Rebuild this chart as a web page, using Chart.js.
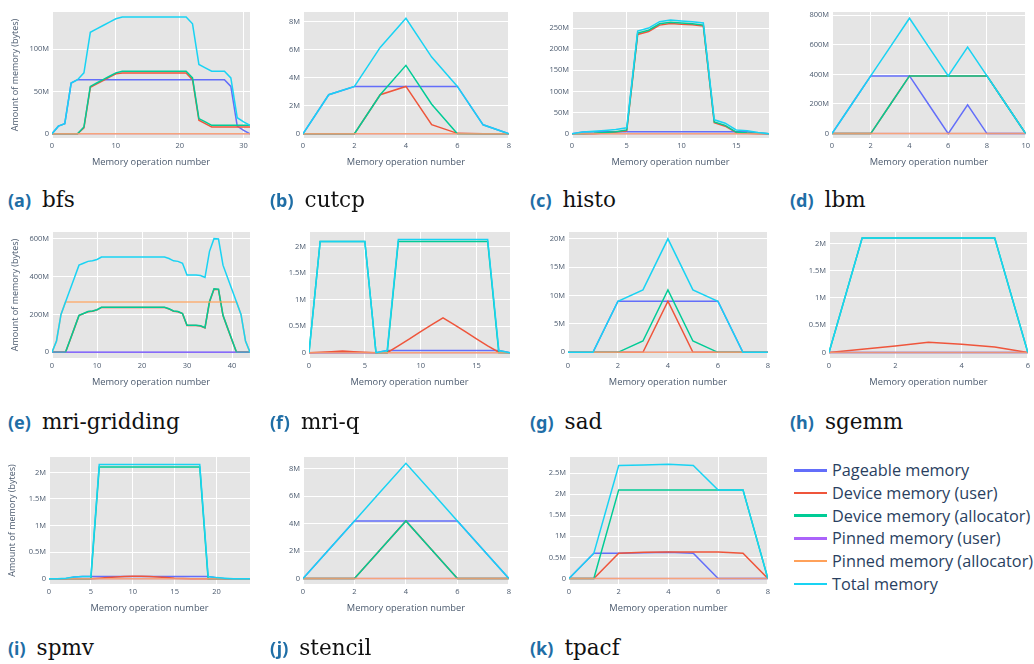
<!DOCTYPE html>
<html>
<head>
<meta charset="utf-8">
<script src="https://cdn.jsdelivr.net/npm/chart.js@4.4.1/dist/chart.umd.min.js"></script>
<style>
  html, body { margin: 0; padding: 0; background: #fff; overflow: hidden; }
  body { width: 1034px; height: 664px; position: relative; font-family: "Open Sans", sans-serif; }
  .panel { position: absolute; }
  .cap { position: absolute; white-space: nowrap; line-height: 24px; }
  .cap .lab { font-family: "Noto Sans", sans-serif; font-weight: bold; color: #1f6ea6; font-size: 18px; }
  .cap .nm { font-family: "DejaVu Serif", serif; font-size: 21.5px; color: #111; margin-left: 11px; }
  #legend { position: absolute; left: 794px; top: 459px; }
  #legend .item { height: 22.7px; display: flex; align-items: center; font-size: 16.3px; color: #2a3f5f; }
  #legend .sw { width: 33px; height: 2.5px; margin-right: 5px; }
</style>
</head>
<body>
<div id="legend"></div>
<script>
// series names / colours (plotly default colorway)
const seriesNames = ['Pageable memory', 'Device memory (user)', 'Device memory (allocator)', 'Pinned memory (user)', 'Pinned memory (allocator)', 'Total memory'];
const seriesColors = ['#636efa', '#EF553B', '#00cc96', '#ab63fa', '#FFA15A', '#19d3f3'];
// line colours on the plots (the two pinned series sit on the zero line and blend)
const lineColors = ['#636efa', '#EF553B', '#00cc96', 'rgba(171,99,250,0.5)', 'rgba(255,161,90,0.8)', '#19d3f3'];

// values in millions of bytes, one point per memory operation (x = 0,1,2,...)
// (a) bfs
const bfsPageable = [0,9,12,60,64,64,64,64,64,64,64,64,64,64,64,64,64,64,64,64,64,64,64,64,64,64,64,64,56,9,4,0];
const bfsDevUser = [0,0,0,0,0,7,55,59,63,67,71,72,72,72,72,72,72,72,72,72,72,72,64,16,12,8,8,8,8,8,8,8];
const bfsDevAlloc = [0,0,0,0,0,8,56,60,64,68,72,74,74,74,74,74,74,74,74,74,74,74,66,18,14,10,10,10,10,10,10,10];
const bfsPinUser = [0,0,0,0,0,0,0,0,0,0,0,0,0,0,0,0,0,0,0,0,0,0,0,0,0,0,0,0,0,0,0,0];
const bfsPinAlloc = [0,0,0,0,0,0,0,0,0,0,0,0,0,0,0,0,0,0,0,0,0,0,0,0,0,0,0,0,0,0,0,0];
const bfsTotal = [0,9,12,60,64,72,120,124,128,132,136,138,138,138,138,138,138,138,138,138,138,138,130,82,78,74,74,74,66,19,14,10];
const bfsXTicks = [0,10,20,30];
const bfsYTicks = [0,50,100];

// (b) cutcp
const cutcpPageable = [0,2.78,3.37,3.37,3.37,3.37,3.37,0.64,0];
const cutcpDevUser = [0,0,0,2.78,3.37,0.65,0.03,0,0];
const cutcpDevAlloc = [0,0,0,2.78,4.87,2.1,0,0,0];
const cutcpPinUser = [0,0,0,0,0,0,0,0,0];
const cutcpPinAlloc = [0,0,0,0,0,0,0,0,0];
const cutcpTotal = [0,2.78,3.37,6.15,8.22,5.46,3.37,0.64,0];
const cutcpXTicks = [0,2,4,6,8];
const cutcpYTicks = [0,2,4,6,8];

// (c) histo
const histoPageable = [0,4,5,5,5,5,5,5,5,5,5,5,5,5,5,5,5,2,0];
const histoDevUser = [0,0,0,2,4,7,235,242,257,261,259,258,255,26,18,3,1,0,0];
const histoDevAlloc = [0,0,1,3,5,9,238,245,260,264,262,260,257,28,20,4,2,1,0];
const histoPinUser = [0,0,0,0,0,0,0,0,0,0,0,0,0,0,0,0,0,0,0];
const histoPinAlloc = [0,0,0,0,0,0,0,0,0,0,0,0,0,0,0,0,0,0,0];
const histoTotal = [0,4,6,8,10,14,243,250,265,269,267,265,262,33,25,9,7,3,0];
const histoXTicks = [0,5,10,15];
const histoYTicks = [0,50,100,150,200,250];

// (d) lbm
const lbmPageable = [0,195,390,390,390,195,0,195,0,0,0];
const lbmDevUser = [0,0,0,195,390,390,390,390,390,195,0];
const lbmDevAlloc = [0,0,0,195,390,390,390,390,390,195,0];
const lbmPinUser = [0,0,0,0,0,0,0,0,0,0,0];
const lbmPinAlloc = [0,0,0,0,0,0,0,0,0,0,0];
const lbmTotal = [0,195,390,585,780,585,390,585,390,195,0];
const lbmXTicks = [0,2,4,6,8,10];
const lbmYTicks = [0,200,400,600,800];

// (e) mri-gridding
const mriGPageable = [0,0,0,0,0,0,0,0,0,0,0,0,0,0,0,0,0,0,0,0,0,0,0,0,0,0,0,0,0,0,0,0,0,0,0,0,0,0,0,0,0,0,0,0,0];
const mriGDevUser = [0,0,0,0,64,129,194,204,214,217,224,237,237,237,237,237,237,237,237,237,237,237,237,237,237,237,229,217,214,204,142,142,142,139,129,266,333,331,194,129,64,0,0,0,0];
const mriGDevAlloc = [0,0,0,0,65,130,195,205,215,218,225,238,238,238,238,238,238,238,238,238,238,238,238,238,238,238,230,218,215,205,143,143,143,140,130,268,335,333,195,130,65,0,0,0,0];
const mriGPinUser = [0,0,0,0,0,0,0,0,0,0,0,0,0,0,0,0,0,0,0,0,0,0,0,0,0,0,0,0,0,0,0,0,0,0,0,0,0,0,0,0,0,0,0,0,0];
const mriGPinAlloc = [0,60,200,265,265,265,265,265,265,265,265,265,265,265,265,265,265,265,265,265,265,265,265,265,265,265,265,265,265,265,265,265,265,265,265,265,265,265,265,265,265,265,200,60,0];
const mriGTotal = [0,60,200,265,330,395,460,470,480,483,490,503,503,503,503,503,503,503,503,503,503,503,503,503,503,503,495,483,480,470,408,408,408,405,395,533,600,598,460,395,330,265,200,60,0];
const mriGXTicks = [0,10,20,30,40];
const mriGYTicks = [0,200,400,600];

// (f) mri-q
const mriQPageable = [0,0,0,0,0,0,0,0.04,0.04,0.04,0.04,0.04,0.04,0.04,0.04,0.04,0.04,0.04,0];
const mriQDevUser = [0,0.01,0.02,0.03,0.02,0.01,0,0,0.13,0.26,0.4,0.53,0.66,0.53,0.4,0.26,0.13,0.01,0];
const mriQDevAlloc = [0,2.1,2.1,2.1,2.1,2.1,0,0,2.1,2.1,2.1,2.1,2.1,2.1,2.1,2.1,2.1,0,0];
const mriQPinUser = [0,0,0,0,0,0,0,0,0,0,0,0,0,0,0,0,0,0,0];
const mriQPinAlloc = [0,0,0,0,0,0,0,0,0,0,0,0,0,0,0,0,0,0,0];
const mriQTotal = [0,2.1,2.1,2.1,2.1,2.1,0,0.04,2.14,2.14,2.14,2.14,2.14,2.14,2.14,2.14,2.14,0.04,0];
const mriQXTicks = [0,5,10,15];
const mriQYTicks = [0,0.5,1,1.5,2];

// (g) sad
const sadPageable = [0,0,9,9,9,9,9,0,0];
const sadDevUser = [0,0,0,0,9,0,0,0,0];
const sadDevAlloc = [0,0,0,2,11,2,0,0,0];
const sadPinUser = [0,0,0,0,0,0,0,0,0];
const sadPinAlloc = [0,0,0,0,0,0,0,0,0];
const sadTotal = [0,0,9,11,20,11,9,0,0];
const sadXTicks = [0,2,4,6,8];
const sadYTicks = [0,5,10,15,20];

// (h) sgemm
const sgemmPageable = [0,0,0,0,0,0,0];
const sgemmDevUser = [0,0.06,0.12,0.19,0.15,0.1,0];
const sgemmDevAlloc = [0,2.1,2.1,2.1,2.1,2.1,0];
const sgemmPinUser = [0,0,0,0,0,0,0];
const sgemmPinAlloc = [0,0,0,0,0,0,0];
const sgemmTotal = [0,2.1,2.1,2.1,2.1,2.1,0];
const sgemmXTicks = [0,2,4,6];
const sgemmYTicks = [0,0.5,1,1.5,2];

// (i) spmv
const spmvPageable = [0,0,0,0.03,0.04,0.04,0.04,0.04,0.04,0.04,0.04,0.04,0.04,0.04,0.04,0.04,0.04,0.04,0.04,0.04,0.02,0,0,0,0];
const spmvDevUser = [0,0,0,0,0,0,0.01,0.02,0.03,0.04,0.045,0.045,0.04,0.03,0.02,0.01,0.005,0,0,0,0,0,0,0,0];
const spmvDevAlloc = [0,0,0,0,0,0,2.1,2.1,2.1,2.1,2.1,2.1,2.1,2.1,2.1,2.1,2.1,2.1,2.1,0,0,0,0,0,0];
const spmvPinUser = [0,0,0,0,0,0,0,0,0,0,0,0,0,0,0,0,0,0,0,0,0,0,0,0,0];
const spmvPinAlloc = [0,0,0,0,0,0,0,0,0,0,0,0,0,0,0,0,0,0,0,0,0,0,0,0,0];
const spmvTotal = [0,0,0.01,0.03,0.04,0.04,2.15,2.15,2.15,2.15,2.15,2.15,2.15,2.15,2.15,2.15,2.15,2.15,2.15,0.04,0.02,0.01,0,0,0];
const spmvXTicks = [0,5,10,15,20];
const spmvYTicks = [0,0.5,1,1.5,2];

// (j) stencil
const stencilPageable = [0,2.1,4.2,4.2,4.2,4.2,4.2,2.1,0];
const stencilDevUser = [0,0,0,2.1,4.2,2.1,0,0,0];
const stencilDevAlloc = [0,0,0,2.1,4.2,2.1,0,0,0];
const stencilPinUser = [0,0,0,0,0,0,0,0,0];
const stencilPinAlloc = [0,0,0,0,0,0,0,0,0];
const stencilTotal = [0,2.1,4.2,6.3,8.4,6.3,4.2,2.1,0];
const stencilXTicks = [0,2,4,6,8];
const stencilYTicks = [0,2,4,6,8];

// (k) tpacf
const tpacfPageable = [0,0.6,0.6,0.61,0.62,0.6,0,0,0];
const tpacfDevUser = [0,0,0.6,0.62,0.63,0.63,0.63,0.6,0];
const tpacfDevAlloc = [0,0,2.1,2.1,2.1,2.1,2.1,2.1,0];
const tpacfPinUser = [0,0,0,0,0,0,0,0,0];
const tpacfPinAlloc = [0,0,0,0,0,0,0,0,0];
const tpacfTotal = [0,0.6,2.68,2.69,2.71,2.68,2.1,2.1,0];
const tpacfXTicks = [0,2,4,6,8];
const tpacfYTicks = [0,0.5,1,1.5,2,2.5];

// panel table: plot box [left, top, right, bottom] on the page, axis ranges
const panels = [
  { tag: '(a)', name: 'bfs', box: [52, 12, 250, 138], xMax: 31, yRange: [-5, 144], xTicks: bfsXTicks, yTicks: bfsYTicks, yTitle: true, cap: [8, 188],
    series: [bfsPageable, bfsDevUser, bfsDevAlloc, bfsPinUser, bfsPinAlloc, bfsTotal] },
  { tag: '(b)', name: 'cutcp', box: [303, 12, 510, 138], xMax: 8, yRange: [-0.3, 8.67], xTicks: cutcpXTicks, yTicks: cutcpYTicks, cap: [270, 188],
    series: [cutcpPageable, cutcpDevUser, cutcpDevAlloc, cutcpPinUser, cutcpPinAlloc, cutcpTotal] },
  { tag: '(c)', name: 'histo', box: [572, 12, 769, 138], xMax: 18, yRange: [-10, 288], xTicks: histoXTicks, yTicks: histoYTicks, cap: [530, 188],
    series: [histoPageable, histoDevUser, histoDevAlloc, histoPinUser, histoPinAlloc, histoTotal] },
  { tag: '(d)', name: 'lbm', box: [832, 12, 1029, 138], xMax: 10, yRange: [-30, 822], xTicks: lbmXTicks, yTicks: lbmYTicks, cap: [790, 188],
    series: [lbmPageable, lbmDevUser, lbmDevAlloc, lbmPinUser, lbmPinAlloc, lbmTotal] },
  { tag: '(e)', name: 'mri-gridding', box: [52, 232, 250, 358], xMax: 44, yRange: [-30, 635], xTicks: mriGXTicks, yTicks: mriGYTicks, yTitle: true, cap: [8, 410],
    series: [mriGPageable, mriGDevUser, mriGDevAlloc, mriGPinUser, mriGPinAlloc, mriGTotal] },
  { tag: '(f)', name: 'mri-q', box: [309, 232, 510, 358], xMax: 18, yRange: [-0.1, 2.28], xTicks: mriQXTicks, yTicks: mriQYTicks, cap: [270, 410],
    series: [mriQPageable, mriQDevUser, mriQDevAlloc, mriQPinUser, mriQPinAlloc, mriQTotal] },
  { tag: '(g)', name: 'sad', box: [568, 232, 769, 358], xMax: 8, yRange: [-1, 21.2], xTicks: sadXTicks, yTicks: sadYTicks, cap: [530, 410],
    series: [sadPageable, sadDevUser, sadDevAlloc, sadPinUser, sadPinAlloc, sadTotal] },
  { tag: '(h)', name: 'sgemm', box: [829, 232, 1029, 358], xMax: 6, yRange: [-0.1, 2.21], xTicks: sgemmXTicks, yTicks: sgemmYTicks, cap: [790, 410],
    series: [sgemmPageable, sgemmDevUser, sgemmDevAlloc, sgemmPinUser, sgemmPinAlloc, sgemmTotal] },
  { tag: '(i)', name: 'spmv', box: [49, 457, 250, 584], xMax: 24, yRange: [-0.1, 2.29], xTicks: spmvXTicks, yTicks: spmvYTicks, yTitle: true, cap: [8, 636],
    series: [spmvPageable, spmvDevUser, spmvDevAlloc, spmvPinUser, spmvPinAlloc, spmvTotal] },
  { tag: '(j)', name: 'stencil', box: [303, 457, 510, 584], xMax: 8, yRange: [-0.4, 8.86], xTicks: stencilXTicks, yTicks: stencilYTicks, cap: [270, 636],
    series: [stencilPageable, stencilDevUser, stencilDevAlloc, stencilPinUser, stencilPinAlloc, stencilTotal] },
  { tag: '(k)', name: 'tpacf', box: [569, 457, 769, 584], xMax: 8, yRange: [-0.13, 2.88], xTicks: tpacfXTicks, yTicks: tpacfYTicks, cap: [530, 636],
    series: [tpacfPageable, tpacfDevUser, tpacfDevAlloc, tpacfPinUser, tpacfPinAlloc, tpacfTotal] }
];

const YW = 52, PT = 8, PR = 4, XH = 31;
const tickColor = '#4b5a6e';

const plotBg = {
  id: 'plotBg',
  beforeDraw(chart) {
    const a = chart.chartArea;
    const ctx = chart.ctx;
    ctx.save();
    ctx.fillStyle = '#e5e5e5';
    ctx.fillRect(a.left, a.top, a.right - a.left, a.bottom - a.top);
    ctx.restore();
  }
};

function fmtM(v) {
  return v === 0 ? '0' : v + 'M';
}

panels.forEach(function (p) {
  const [l, t, r, b] = p.box;
  const w = (r - l) + YW + PR;
  const h = (b - t) + PT + XH;
  const div = document.createElement('div');
  div.className = 'panel';
  div.style.left = (l - YW) + 'px';
  div.style.top = (t - PT) + 'px';
  const cv = document.createElement('canvas');
  cv.width = w;
  cv.height = h;
  cv.style.width = w + 'px';
  cv.style.height = h + 'px';
  div.appendChild(cv);
  document.body.appendChild(div);

  const cap = document.createElement('div');
  cap.className = 'cap';
  cap.style.left = p.cap[0] + 'px';
  cap.style.top = p.cap[1] + 'px';
  cap.innerHTML = '<span class="lab">' + p.tag + '</span><span class="nm">' + p.name + '</span>';
  document.body.appendChild(cap);

  // plotly draws later traces on top; chart.js draws lower "order" on top
  const datasets = p.series.map(function (vals, i) {
    return {
      label: seriesNames[i],
      data: vals.map(function (v, k) { return { x: k, y: v }; }),
      borderColor: lineColors[i],
      backgroundColor: lineColors[i],
      borderWidth: 1.5,
      pointRadius: 0,
      tension: 0,
      fill: false,
      order: 5 - i
    };
  });

  new Chart(cv, {
    type: 'line',
    data: { datasets: datasets },
    plugins: [plotBg],
    options: {
      responsive: false,
      animation: false,
      devicePixelRatio: 1,
      layout: { padding: { left: 0, top: PT, right: PR, bottom: 0 } },
      plugins: { legend: { display: false }, tooltip: { enabled: false } },
      scales: {
        x: {
          type: 'linear',
          min: 0,
          max: p.xMax,
          afterBuildTicks: function (s) { s.ticks = p.xTicks.map(function (v) { return { value: v }; }); },
          afterFit: function (s) { s.height = XH; },
          grid: { color: '#ffffff', lineWidth: 1, drawTicks: false },
          border: { display: false },
          ticks: { color: tickColor, font: { family: 'Open Sans', size: 7.5 }, padding: 3, maxRotation: 0, autoSkip: false },
          title: { display: true, text: 'Memory operation number', color: tickColor, font: { family: 'Open Sans', size: 9.3 }, padding: { top: 0, bottom: 1 } }
        },
        y: {
          min: p.yRange[0],
          max: p.yRange[1],
          afterBuildTicks: function (s) { s.ticks = p.yTicks.map(function (v) { return { value: v }; }); },
          afterFit: function (s) { s.width = YW; },
          grid: { color: '#ffffff', lineWidth: 1, drawTicks: false },
          border: { display: false },
          ticks: { color: tickColor, font: { family: 'Open Sans', size: 7.5 }, padding: 3, autoSkip: false, callback: fmtM },
          title: { display: !!p.yTitle, text: 'Amount of memory (bytes)', color: tickColor, font: { family: 'Open Sans', size: 9 }, padding: { top: 10, bottom: 0 } }
        }
      }
    }
  });
});

// legend
const legend = document.getElementById('legend');
seriesNames.forEach(function (n, i) {
  const it = document.createElement('div');
  it.className = 'item';
  it.innerHTML = '<span class="sw" style="background:' + seriesColors[i] + '"></span><span>' + n + '</span>';
  legend.appendChild(it);
});
</script>
</body>
</html>
